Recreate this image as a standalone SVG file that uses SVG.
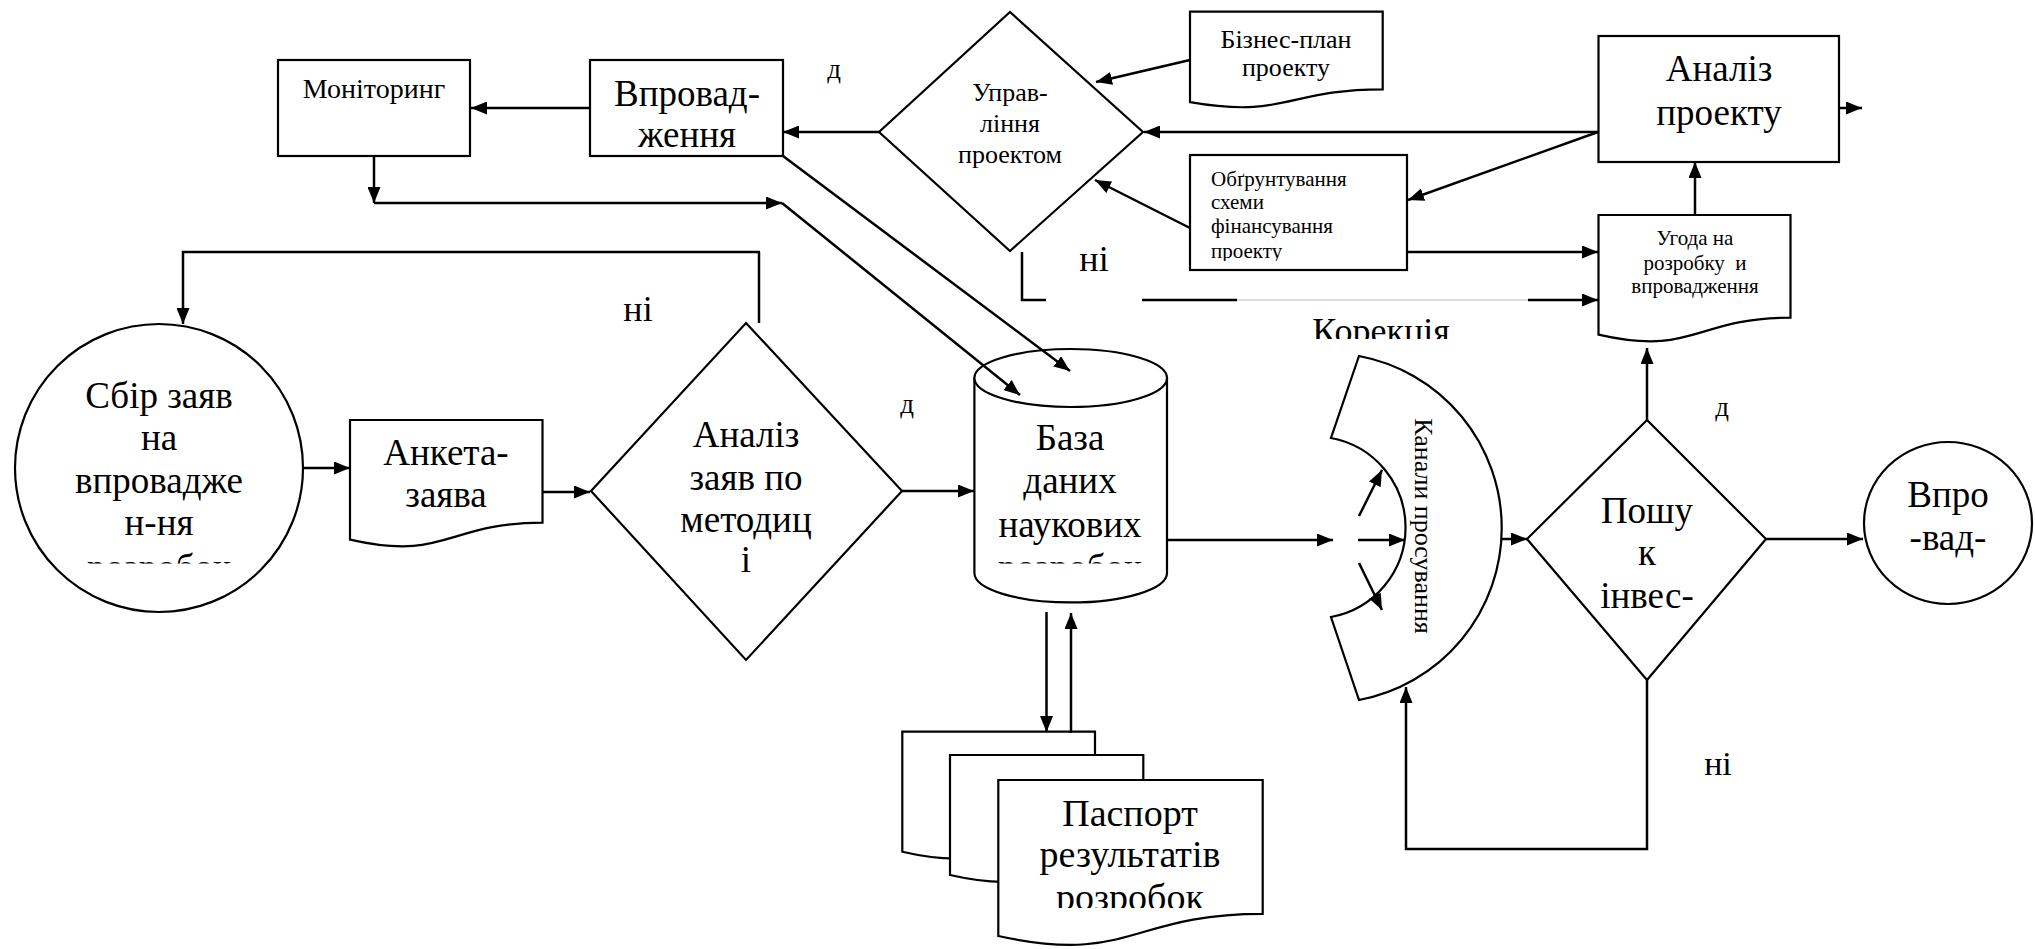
<svg xmlns="http://www.w3.org/2000/svg" width="2035" height="949" viewBox="0 0 2035 949" font-family="'Liberation Serif', 'DejaVu Serif', serif">
  <style>
    .s { fill:#fff; stroke:#000; stroke-width:2.2; stroke-linejoin:miter; }
    .c { fill:none; stroke:#000; stroke-width:2.5; }
    .a { marker-end:url(#ah); }
    text { fill:#000; text-anchor:middle; }
    text.l { text-anchor:start; }
  </style>
  <defs>
    <marker id="ah" markerUnits="userSpaceOnUse" markerWidth="16" markerHeight="13" refX="16" refY="6.5" orient="auto">
      <path d="M0,0 L16,6.5 L0,13 Z" fill="#000"/>
    </marker>
    <clipPath id="cutSbir" clipPathUnits="userSpaceOnUse"><rect x="0" y="0" width="2035" height="563.5"/></clipPath>
    <clipPath id="cutCyl" clipPathUnits="userSpaceOnUse"><rect x="0" y="0" width="2035" height="563.5"/></clipPath>
    <clipPath id="cutPas" clipPathUnits="userSpaceOnUse"><rect x="0" y="0" width="2035" height="908"/></clipPath>
    <clipPath id="cutObg" clipPathUnits="userSpaceOnUse"><rect x="0" y="0" width="2035" height="261"/></clipPath>
    <clipPath id="cutKor" clipPathUnits="userSpaceOnUse"><rect x="0" y="0" width="2035" height="339"/></clipPath>
  </defs>
  <rect width="2035" height="949" fill="#fff"/>

  <g id="monitoring">
    <rect class="s" x="278" y="60" width="192" height="96"/>
    <text x="374" y="98" font-size="28" font-family="Liberation Serif, serif">Моніторинг</text>
  </g>

  <g id="implementation">
    <rect class="s" x="590" y="60" width="193" height="96"/>
    <text x="687" y="106" font-size="37" font-family="Liberation Serif, serif">Впровад-</text>
    <text x="687" y="147" font-size="37" font-family="Liberation Serif, serif">ження</text>
  </g>

  <g id="management">
    <polygon class="s" points="1010,12 1143,132 1010,251 879,132"/>
    <text x="1010" y="101" font-size="26" font-family="Liberation Serif, serif">Управ-</text>
    <text x="1010" y="132" font-size="26" font-family="Liberation Serif, serif">ління</text>
    <text x="1010" y="163" font-size="26" font-family="Liberation Serif, serif">проектом</text>
  </g>

  <g id="business-plan">
    <path class="s" d="M1190,11.7 H1382.7 V89.3 C1286.4,89.3 1286.4,118.9 1190,102.1 Z"/>
    <text x="1286" y="48" font-size="26" font-family="Liberation Serif, serif">Бізнес-план</text>
    <text x="1286" y="76" font-size="26" font-family="Liberation Serif, serif">проекту</text>
  </g>

  <g id="financing">
    <rect class="s" x="1190" y="155" width="217" height="115"/>
    <g font-size="21" clip-path="url(#cutObg)">
      <text class="l" x="1211" y="186" font-family="Liberation Serif, serif">Обґрунтування</text>
      <text class="l" x="1211" y="209" font-family="Liberation Serif, serif">схеми</text>
      <text class="l" x="1211" y="233" font-family="Liberation Serif, serif">фінансування</text>
      <text class="l" x="1211" y="258" font-family="Liberation Serif, serif">проекту</text>
    </g>
  </g>

  <g id="project-analysis">
    <rect class="s" x="1598.5" y="36" width="240.5" height="126"/>
    <text x="1719" y="81" font-size="37" font-family="Liberation Serif, serif">Аналіз</text>
    <text x="1719" y="125" font-size="37" font-family="Liberation Serif, serif">проекту</text>
  </g>

  <g id="agreement">
    <path class="s" d="M1598.5,215 H1790.5 V317.7 C1694.5,317.7 1694.5,356.7 1598.5,334.6 Z"/>
    <text x="1695" y="245" font-size="21" font-family="Liberation Serif, serif">Угода на</text>
    <text x="1695" y="270" font-size="21" font-family="Liberation Serif, serif" xml:space="preserve">розробку  и</text>
    <text x="1695" y="293" font-size="21" font-family="Liberation Serif, serif">впровадження</text>
  </g>

  <g id="collection">
    <circle class="s" cx="159" cy="468" r="144"/>
    <text x="159" y="408" font-size="37" font-family="Liberation Serif, serif">Сбір заяв</text>
    <text x="159" y="450" font-size="37" font-family="Liberation Serif, serif">на</text>
    <text x="159" y="493" font-size="37" font-family="Liberation Serif, serif">впровадже</text>
    <text x="159" y="535" font-size="37" font-family="Liberation Serif, serif">н-ня</text>
    <text x="159" y="579.5" font-size="37" font-family="Liberation Serif, serif" clip-path="url(#cutSbir)">розробок</text>
  </g>

  <g id="questionnaire">
    <path class="s" d="M350,420 H542.5 V522.7 C446.3,522.7 446.3,561.7 350,539.6 Z"/>
    <text x="446" y="465" font-size="37" font-family="Liberation Serif, serif">Анкета-</text>
    <text x="446" y="507" font-size="37" font-family="Liberation Serif, serif">заява</text>
  </g>

  <g id="screening">
    <polygon class="s" points="746,323 902,491 746,660 591,491"/>
    <text x="746" y="447" font-size="37" font-family="Liberation Serif, serif">Аналіз</text>
    <text x="746" y="490" font-size="37" font-family="Liberation Serif, serif">заяв по</text>
    <text x="746" y="532" font-size="37" font-family="Liberation Serif, serif">методиц</text>
    <text x="746" y="572" font-size="37" font-family="Liberation Serif, serif">і</text>
  </g>

  <g id="database">
    <path class="s" d="M974.4,378 V573 A96.3,29.5 0 0 0 1167,573 V378 Z"/>
    <ellipse class="s" cx="1070.7" cy="378" rx="96.3" ry="29"/>
    <text x="1070" y="450" font-size="37" font-family="Liberation Serif, serif">База</text>
    <text x="1070" y="493" font-size="37" font-family="Liberation Serif, serif">даних</text>
    <text x="1070" y="537" font-size="37" font-family="Liberation Serif, serif">наукових</text>
    <text x="1070" y="579.5" font-size="37" font-family="Liberation Serif, serif" clip-path="url(#cutCyl)">розробок</text>
  </g>

  <g id="passports">
    <path class="s" d="M902.3,731.7 H1095 V834.8 C998.7,834.8 998.7,873.9 902.3,851.7 Z"/>
    <path class="s" d="M950,755 H1143.3 V858.1 C1046.7,858.1 1046.7,897.2 950,875 Z"/>
    <path class="s" d="M998.3,780 H1262.7 V913.9 C1130.5,913.9 1130.5,964.9 998.3,936 Z"/>
    <text x="1130" y="826" font-size="38" font-family="Liberation Serif, serif">Паспорт</text>
    <text x="1130" y="867" font-size="38" font-family="Liberation Serif, serif">результатів</text>
    <text x="1130" y="910" font-size="38" font-family="Liberation Serif, serif" clip-path="url(#cutPas)">розробок</text>
  </g>

  <g id="channels">
    <path class="s" d="M1359,356 A175,175 0 0 1 1359,700 L1331,617 A91,91 0 0 0 1331,438 Z"/>
    <text transform="translate(1415,526) rotate(90)" font-size="26" font-family="Liberation Serif, serif">Канали просування</text>
  </g>

  <g id="investor-search">
    <polygon class="s" points="1647,420 1766,539 1647,680 1527,539"/>
    <text x="1647" y="523" font-size="37" font-family="Liberation Serif, serif">Пошу</text>
    <text x="1647" y="565" font-size="37" font-family="Liberation Serif, serif">к</text>
    <text x="1647" y="608" font-size="37" font-family="Liberation Serif, serif">інвес-</text>
  </g>

  <g id="rollout">
    <ellipse class="s" cx="1948" cy="523" rx="84" ry="81"/>
    <text x="1948" y="507" font-size="37" font-family="Liberation Serif, serif">Впро</text>
    <text x="1948" y="550" font-size="37" font-family="Liberation Serif, serif">-вад-</text>
  </g>

  <!-- connectors, drawn over the shapes so arrowheads inside the cylinder and arc stay visible -->
  <g id="connectors">
    <path class="c a" d="M590,108 H471"/>
    <path class="c a" d="M879,132 H783"/>
    <path class="c a" d="M374,156 V203"/>
    <path class="c a" d="M374,203 H782"/>
    <path class="c a" d="M782,203 L1020,395"/>
    <path class="c a" d="M783,156 L1070,371"/>
    <path class="c a" d="M1190,60 L1096,82"/>
    <path class="c a" d="M1190,228 L1095,180"/>
    <path class="c a" d="M1598,132 H1144"/>
    <path class="c a" d="M1598,132 L1408,200"/>
    <path class="c a" d="M1407,252 H1598"/>
    <path class="c" d="M1022,252 V300 H1046"/>
    <path class="c" d="M1142,300 H1237"/>
    <path fill="none" stroke="#bbb" stroke-width="1" d="M1237,300 H1528"/>
    <path class="c a" d="M1528,300 H1598"/>
    <path class="c a" d="M1695,215 V162"/>
    <path class="c a" d="M1839,108 H1862"/>
    <path class="c" d="M759,323 V252" stroke-width="1.8"/>
    <path class="c a" d="M760,252 H183 V324"/>
    <path class="c a" d="M302,468 H350"/>
    <path class="c a" d="M542,492 H590"/>
    <path class="c a" d="M902,491 H974"/>
    <path class="c a" d="M1046.5,612 V732"/>
    <path class="c a" d="M1071,733 V613"/>
    <path class="c a" d="M1167,540 H1333"/>
    <path class="c a" d="M1359,516 L1382,470"/>
    <path class="c a" d="M1358,540 H1405"/>
    <path class="c a" d="M1359,563 L1382,610"/>
    <path class="c a" d="M1502,539 H1527"/>
    <path class="c a" d="M1647,420 V348"/>
    <path class="c a" d="M1766,539 H1863"/>
    <path class="c a" d="M1647,680 V849 H1406 V687"/>
  </g>

  <!-- branch labels -->
  <g id="labels">
    <text x="834" y="78" font-size="27" font-family="Liberation Serif, serif">д</text>
    <text x="1094" y="271" font-size="36" font-family="Liberation Serif, serif">ні</text>
    <text x="638" y="321" font-size="36" font-family="Liberation Serif, serif">ні</text>
    <text x="907" y="413" font-size="27" font-family="Liberation Serif, serif">д</text>
    <text x="1722" y="416" font-size="27" font-family="Liberation Serif, serif">д</text>
    <text x="1718" y="775" font-size="34" font-family="Liberation Serif, serif">ні</text>
    <text x="1381" y="343" font-size="36" font-family="Liberation Serif, serif" clip-path="url(#cutKor)">Корекція</text>
  </g>
</svg>
